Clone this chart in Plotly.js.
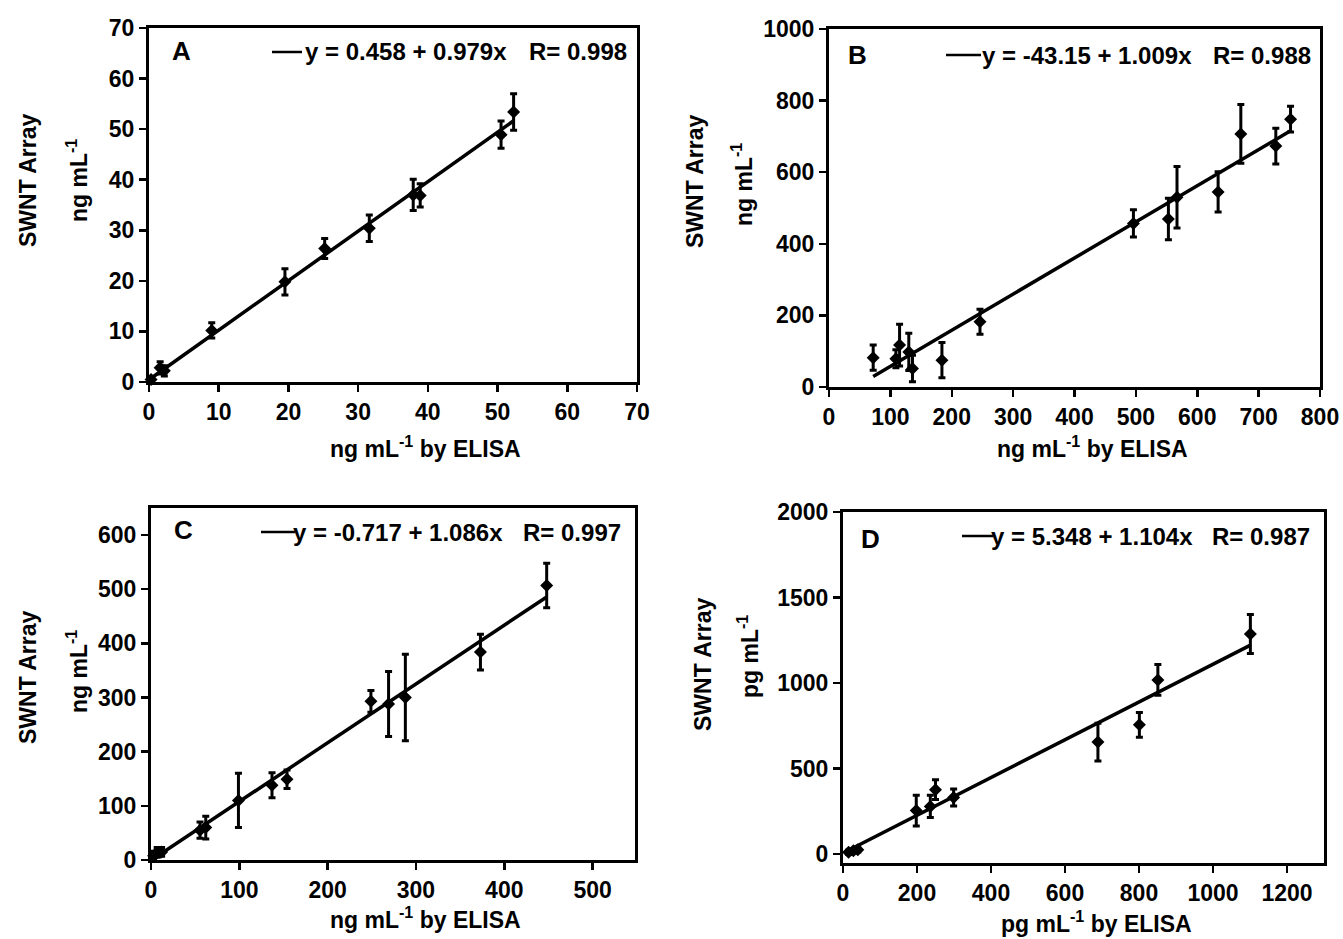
<!DOCTYPE html>
<html>
<head>
<meta charset="utf-8">
<script src="https://cdn.plot.ly/plotly-3.0.1.min.js"></script>
<style>html,body{margin:0;padding:0;background:#fff;}#chart{width:1343px;height:939px;}</style>
</head>
<body>
<div id="chart"></div>
<script>
// ---------- Data ----------
// Panel A
const xA = [0.3, 1.6, 2.2, 9.0, 19.5, 25.2, 31.6, 37.9, 38.9, 50.5, 52.3];
const yA = [0.5, 2.8, 2.2, 10.2, 19.8, 26.4, 30.4, 37.0, 36.9, 48.9, 53.4];
const eA = [0.6, 1.2, 1.0, 1.5, 2.6, 2.0, 2.6, 3.1, 2.3, 2.7, 3.6];
const fitXA = [0.3, 52.3];
const fitYA = [0.75, 51.66];
// Panel B
const xB = [72, 109, 115, 130, 136, 184, 246, 496, 553, 567, 634, 671, 728, 752];
const yB = [82, 79, 117, 98, 52, 75, 182, 457, 469, 530, 545, 707, 673, 748];
const eB = [35, 25, 58, 52, 37, 49, 35, 38, 58, 86, 56, 82, 50, 36];
const fitXB = [72, 752];
const fitYB = [29.5, 715.6];
// Panel C
const xC = [3, 7, 12, 55.5, 62, 99, 137, 154, 249, 269, 288, 373, 448];
const yC = [8, 14, 15, 55, 60, 110, 138, 149, 293, 288, 300, 384, 507];
const eC = [8, 9, 8, 15, 21, 50, 23, 17, 20, 60, 80, 33, 41];
const fitXC = [1, 448];
const fitYC = [0.37, 485.8];
// Panel D
const xD = [15, 28, 40, 198, 236, 250, 299, 689, 801, 851, 1101];
const yD = [10, 18, 24, 254, 278, 376, 330, 654, 755, 1018, 1287];
const eD = [12, 12, 12, 90, 65, 58, 50, 111, 73, 90, 114];
const fitXD = [15, 1100];
const fitYD = [21.9, 1219.7];

const panelLetters = ["A", "B", "C", "D"];
const equations = ["y = 0.458 + 0.979x", "y = -43.15 + 1.009x", "y = -0.717 + 1.086x", "y = 5.348 + 1.104x"];
const rValues = ["R= 0.998", "R= 0.988", "R= 0.997", "R= 0.987"];
const xTitles = ["ng mL<sup>-1</sup> by ELISA", "ng mL<sup>-1</sup> by ELISA", "ng mL<sup>-1</sup> by ELISA", "pg mL<sup>-1</sup> by ELISA"];
const yTitle1 = ["SWNT Array", "SWNT Array", "SWNT Array", "SWNT Array"];
const yTitle2 = ["ng mL<sup>-1</sup>", "ng mL<sup>-1</sup>", "ng mL<sup>-1</sup>", "pg mL<sup>-1</sup>"];

// ---------- Layout helpers ----------
const W = 1343, H = 939;
const fx = v => v / W;
const fy = v => 1 - v / H;
const FONT = "Liberation Sans, Arial, Helvetica, sans-serif";

// pixel boxes of each plot area [left, right, top, bottom]
const boxes = [
  [149, 637, 28, 382],
  [829, 1320, 29, 387],
  [151, 635, 508, 860],
  [843, 1324, 512, 863]
];
const xRanges = [[0, 70], [0, 800], [0, 548], [0, 1300]];
const yRanges = [[0, 70], [0, 1000], [0, 650], [-53, 2000]];
const xDt = [10, 100, 100, 200];
const yDt = [10, 200, 100, 500];

const series = [
  [xA, yA, eA, fitXA, fitYA],
  [xB, yB, eB, fitXB, fitYB],
  [xC, yC, eC, fitXC, fitYC],
  [xD, yD, eD, fitXD, fitYD]
];

const traces = [];
const layout = {
  width: W, height: H,
  margin: {l: 0, r: 0, t: 0, b: 0},
  paper_bgcolor: "white", plot_bgcolor: "white",
  showlegend: false, hovermode: false,
  annotations: [], shapes: []
};

function axisBase(range, dtick, domain) {
  return {
    domain: domain, range: range, autorange: false, dtick: dtick, tick0: 0,
    showline: true, linewidth: 3, linecolor: "black", mirror: true,
    ticks: "outside", ticklen: 7, tickwidth: 2.5, tickcolor: "black",
    showgrid: false, zeroline: false, fixedrange: true,
    tickfont: {family: FONT, size: 23, color: "black", weight: "bold"}
  };
}

// label positions (pixels)
const letterPos = [[181, 51], [857, 55], [183, 530], [871, 539]];
const legLine = [[272, 302, 52], [946, 981, 55], [261, 295, 532], [962, 995, 536]];
const eqEnd = [509, 1194, 505, 1195];
const rEnd = [629, 1313, 623, 1312];
const xTitlePos = [[425, 447], [1092, 447], [425, 918], [1096, 922]];
const yT1Pos = [[28, 180], [695, 181], [28, 677], [703, 664]];
const yT2Pos = [[77, 181], [742, 185], [77, 672], [748, 657]];

for (let i = 0; i < 4; i++) {
  const s = i === 0 ? "" : String(i + 1);
  const [L, R, T, B] = boxes[i];
  layout["xaxis" + s] = Object.assign(axisBase(xRanges[i], xDt[i], [fx(L), fx(R)]), {anchor: "y" + s});
  layout["yaxis" + s] = Object.assign(axisBase(yRanges[i], yDt[i], [fy(B), fy(T)]), {anchor: "x" + s});
  const [xs, ys, es, fxs, fys] = series[i];
  traces.push({
    x: fxs, y: fys, xaxis: "x" + s, yaxis: "y" + s, mode: "lines",
    line: {color: "black", width: 3.5}, type: "scatter"
  });
  traces.push({
    x: xs, y: ys, xaxis: "x" + s, yaxis: "y" + s, mode: "markers", type: "scatter",
    marker: {symbol: "diamond", size: 10, color: "black"},
    error_y: {type: "data", array: es, visible: true, color: "black", thickness: 3, width: 3.5},
    cliponaxis: false
  });
  const txt = {family: FONT, size: 24, color: "black", weight: "bold"};
  layout.annotations.push({
    xref: "paper", yref: "paper", x: fx(letterPos[i][0]), y: fy(letterPos[i][1]),
    text: panelLetters[i], showarrow: false, xanchor: "center", yanchor: "middle",
    font: {family: FONT, size: 26, color: "black", weight: "bold"}
  });
  layout.annotations.push({
    xref: "paper", yref: "paper", x: fx(eqEnd[i]), y: fy(legLine[i][2]),
    text: equations[i], showarrow: false, xanchor: "right", yanchor: "middle", font: txt
  });
  layout.annotations.push({
    xref: "paper", yref: "paper", x: fx(rEnd[i]), y: fy(legLine[i][2]),
    text: rValues[i], showarrow: false, xanchor: "right", yanchor: "middle", font: txt
  });
  layout.shapes.push({
    type: "line", xref: "paper", yref: "paper",
    x0: fx(legLine[i][0]), x1: fx(legLine[i][1]), y0: fy(legLine[i][2]), y1: fy(legLine[i][2]),
    line: {color: "black", width: 2.5}
  });
  const tf = {family: FONT, size: 23, color: "black", weight: "bold"};
  layout.annotations.push({
    xref: "paper", yref: "paper", x: fx(xTitlePos[i][0]), y: fy(xTitlePos[i][1]),
    text: xTitles[i], showarrow: false, xanchor: "center", yanchor: "middle", font: tf
  });
  layout.annotations.push({
    xref: "paper", yref: "paper", x: fx(yT1Pos[i][0]), y: fy(yT1Pos[i][1]),
    text: yTitle1[i], showarrow: false, xanchor: "center", yanchor: "middle", textangle: -90, font: tf
  });
  layout.annotations.push({
    xref: "paper", yref: "paper", x: fx(yT2Pos[i][0]), y: fy(yT2Pos[i][1]),
    text: yTitle2[i], showarrow: false, xanchor: "center", yanchor: "middle", textangle: -90, font: tf
  });
}

Plotly.newPlot("chart", traces, layout, {staticPlot: true, displayModeBar: false});
</script>
</body>
</html>
